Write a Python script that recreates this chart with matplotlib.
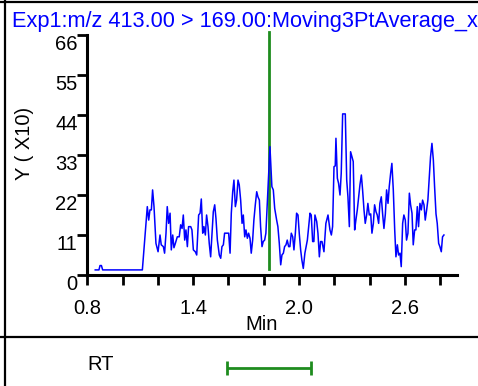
import matplotlib
matplotlib.use("Agg")
import matplotlib.pyplot as plt
from matplotlib.lines import Line2D

plt.rcParams['font.family'] = ['Liberation Sans', 'DejaVu Sans']

# ---------------- data ----------------
title_text = "Exp1:m/z 413.00 > 169.00:Moving3PtAverage_x"
y_label = "Y ( X10)"
x_label = "Min"
rt_label = "RT"

time_min = [
    0.845, 0.866, 0.872, 0.880, 0.887, 1.112, 1.140, 1.148, 1.155, 1.163,
    1.170, 1.178, 1.189, 1.201, 1.212, 1.219, 1.231, 1.238, 1.246, 1.253,
    1.261, 1.269, 1.276, 1.284, 1.291, 1.299, 1.310, 1.321, 1.329, 1.337,
    1.344, 1.352, 1.359, 1.367, 1.374, 1.386, 1.393, 1.401, 1.412, 1.420,
    1.431, 1.439, 1.446, 1.454, 1.461, 1.469, 1.476, 1.484, 1.491, 1.499,
    1.507, 1.514, 1.522, 1.529, 1.537, 1.548, 1.556, 1.563, 1.571, 1.578,
    1.601, 1.609, 1.616, 1.624, 1.631, 1.639, 1.646, 1.654, 1.661, 1.669,
    1.677, 1.684, 1.692, 1.699, 1.707, 1.714, 1.722, 1.729, 1.737, 1.744,
    1.752, 1.760, 1.767, 1.775, 1.782, 1.790, 1.797, 1.805, 1.812, 1.820,
    1.835, 1.846, 1.854, 1.862, 1.873, 1.880, 1.888, 1.896, 1.903, 1.911,
    1.918, 1.926, 1.933, 1.941, 1.948, 1.956, 1.964, 1.971, 1.979, 1.986,
    1.994, 2.001, 2.009, 2.016, 2.024, 2.033, 2.047, 2.062, 2.069, 2.077,
    2.084, 2.090, 2.100, 2.107, 2.115, 2.122, 2.130, 2.141, 2.152, 2.164,
    2.175, 2.183, 2.190, 2.198, 2.205, 2.209, 2.217, 2.224, 2.232, 2.239,
    2.247, 2.262, 2.270, 2.277, 2.285, 2.292, 2.300, 2.307, 2.315, 2.322,
    2.330, 2.338, 2.345, 2.353, 2.360, 2.368, 2.375, 2.383, 2.390, 2.398,
    2.406, 2.413, 2.421, 2.428, 2.436, 2.443, 2.451, 2.458, 2.466, 2.474,
    2.481, 2.489, 2.496, 2.504, 2.511, 2.519, 2.526, 2.534, 2.542, 2.549,
    2.557, 2.564, 2.572, 2.579, 2.587, 2.594, 2.602, 2.609, 2.617, 2.625,
    2.632, 2.640, 2.647, 2.655, 2.662, 2.670, 2.677, 2.685, 2.693, 2.700,
    2.708, 2.715, 2.723, 2.730, 2.738, 2.745, 2.753, 2.761, 2.768, 2.776,
    2.783, 2.791, 2.798, 2.806, 2.813, 2.821,
]

intensity_x10 = [
    1.4, 1.4, 2.6, 2.6, 1.4, 1.4, 18.8, 15.1, 17.9, 17.9,
    23.4, 18.8, 8.7, 6.4, 11.0, 8.3, 7.8, 6.0, 11.5, 18.8,
    14.2, 17.0, 6.9, 11.0, 7.5, 8.7, 10.5, 10.5, 13.8, 12.8,
    16.5, 9.6, 12.4, 7.8, 13.3, 13.3, 12.4, 6.9, 6.4, 5.5,
    16.5, 17.0, 20.9, 11.5, 13.3, 11.0, 16.5, 13.3, 8.7, 5.0,
    11.5, 17.4, 19.3, 15.6, 9.6, 5.5, 4.6, 7.8, 8.3, 11.5,
    11.5, 6.0, 17.0, 22.9, 26.1, 18.8, 20.6, 26.1, 24.8, 20.6,
    14.2, 16.5, 10.5, 12.4, 10.1, 11.5, 10.1, 6.0, 9.6, 15.1,
    19.3, 22.9, 21.5, 20.6, 13.3, 7.8, 9.2, 9.6, 11.5, 19.7,
    35.3, 24.3, 23.4, 18.3, 15.1, 13.3, 8.7, 2.8, 5.5, 6.0,
    7.8, 8.3, 9.6, 7.8, 7.8, 11.5, 10.5, 6.9, 11.5, 17.0,
    16.5, 11.5, 6.9, 4.1, 1.8, 6.0, 9.6, 17.0, 16.5, 9.2,
    9.2, 16.5, 14.7, 11.5, 5.0, 9.2, 9.2, 6.4, 14.2, 16.5,
    12.4, 11.0, 13.3, 29.8, 30.0, 37.6, 26.6, 25.2, 22.0, 28.0,
    44.3, 44.3, 26.1, 21.5, 13.3, 33.9, 32.5, 31.2, 12.4, 15.1,
    17.9, 21.5, 24.8, 27.5, 23.4, 17.9, 14.2, 16.5, 19.7, 16.5,
    16.8, 11.5, 14.2, 19.3, 17.4, 16.5, 14.2, 19.7, 21.5, 16.5,
    12.8, 16.8, 23.4, 19.7, 24.3, 28.0, 30.7, 23.4, 12.4, 5.0,
    8.3, 5.5, 6.0, 2.3, 14.2, 16.5, 15.1, 9.6, 11.5, 22.5,
    19.3, 17.0, 8.3, 12.4, 12.4, 18.8, 13.3, 19.7, 17.9, 20.6,
    19.3, 15.1, 17.9, 20.6, 27.0, 32.5, 36.2, 31.6, 24.3, 16.8,
    14.2, 8.7, 7.8, 6.4, 10.5, 11.0,
]

rt_apex = 1.83
rt_start = 1.59
rt_end = 2.07

y_ticks = [0, 11, 22, 33, 44, 55, 66]
x_major_ticks = [0.8, 1.4, 2.0, 2.6]
x_minor_ticks = [1.0, 1.2, 1.6, 1.8, 2.2, 2.4, 2.8]

# ---------------- layout ----------------
W, H = 478, 386
fig = plt.figure(figsize=(W / 100, H / 100), dpi=100)

left_px, right_px, top_px, bottom_px = 87.3, 457, 35, 275
ax = fig.add_axes([left_px / W, 1 - bottom_px / H,
                   (right_px - left_px) / W, (bottom_px - top_px) / H])

trace_color = '#0000ff'
green = '#1e8c1e'
fs = 14.5

ax.plot(time_min, intensity_x10, color=trace_color, lw=1.1, zorder=3)
ax.axvline(rt_apex, ymin=0.025, ymax=1.012, color=green, lw=2.0,
           clip_on=False, zorder=2)

ax.set_xlim(0.8, 2.895)
ax.set_ylim(0, 66)

for s in ['top', 'right']:
    ax.spines[s].set_visible(False)
for s in ['left', 'bottom']:
    ax.spines[s].set_linewidth(2.2)
    ax.spines[s].set_color('black')

ax.set_yticks(y_ticks)
ax.set_yticklabels([str(v) for v in y_ticks], va='top')
ax.set_xticks(x_major_ticks)
ax.set_xticklabels([f"{v:.1f}" for v in x_major_ticks])
ax.set_xticks(x_minor_ticks, minor=True)

ax.tick_params(axis='y', direction='out', length=7, width=2, pad=0,
               labelsize=fs, colors='black')
ax.tick_params(axis='x', which='both', direction='out', length=7, width=2,
               pad=10, labelsize=fs, colors='black')
ax.set_facecolor('white')

# labels
fig.text(262 / W, 1 - 325 / H, x_label, ha='center', va='center', fontsize=fs)
fig.text(25 / W, 1 - 143 / H, y_label, ha='center', va='center',
         rotation=90, fontsize=fs)
fig.text(12 / W, 1 - 27 / H, title_text, ha='left', va='baseline',
         fontsize=15.7, color=trace_color)

# frame lines
fig.add_artist(Line2D([0, 1], [1 - 1.5 / H, 1 - 1.5 / H], color='black', lw=1.6))
fig.add_artist(Line2D([5 / W, 5 / W], [0, 1], color='black', lw=1.6))
fig.add_artist(Line2D([0, 1], [1 - 337 / H, 1 - 337 / H], color='black', lw=1.6))

# RT panel
ax2 = fig.add_axes([left_px / W, 0, (right_px - left_px) / W, 1 - 337 / H - 0.005])
ax2.set_xlim(ax.get_xlim())
ax2.set_ylim(0, 1)
ax2.axis('off')
rt_mid = (rt_start + rt_end) / 2
ax2.errorbar([rt_mid], [0.39], xerr=[[rt_mid - rt_start], [rt_end - rt_mid]],
             fmt='none', ecolor=green, elinewidth=2.0, capsize=4.8, capthick=2.0)
fig.text(101 / W, 1 - 364 / H, rt_label, ha='center', va='center', fontsize=fs)

fig.savefig('out.png', dpi=100)
